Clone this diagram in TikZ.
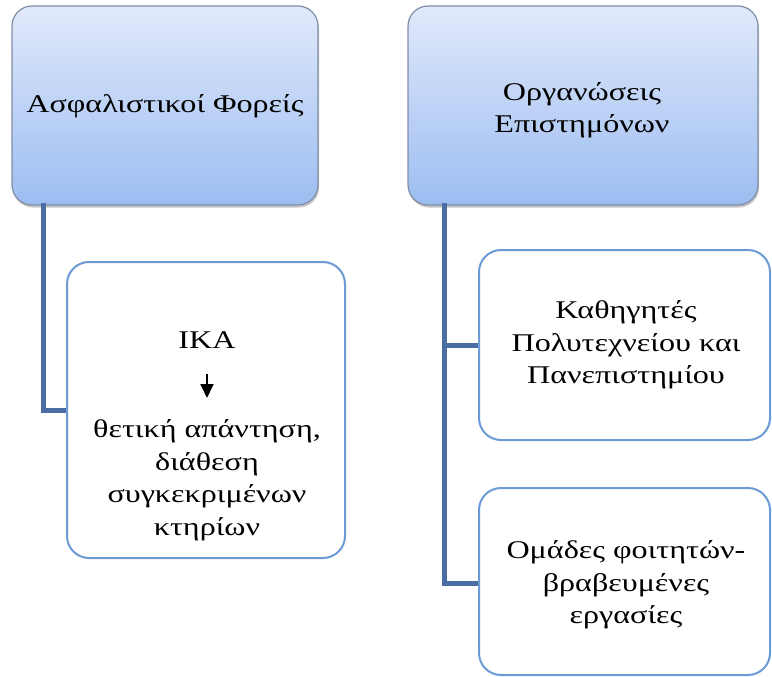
\documentclass[tikz,border=0pt]{standalone}
\usepackage{fontspec}
\setmainfont[FakeStretch=1.26]{Liberation Serif}
\usetikzlibrary{shadows,arrows.meta}
\definecolor{topc}{HTML}{E1E9FB}
\definecolor{botc}{HTML}{9CBDF1}
\definecolor{headline}{HTML}{7F8EA6}
\definecolor{subline}{HTML}{6C9BD5}
\definecolor{conn}{HTML}{4A6EA4}
\tikzset{
  headbox/.style={draw=headline, line width=1.2pt, rounded corners=20pt, top color=topc, bottom color=botc,
    drop shadow={shadow xshift=1pt, shadow yshift=-2.5pt, opacity=0.45}},
  subbox/.style={draw=subline, line width=2pt, rounded corners=22pt, fill=white},
  txt/.style={font=\fontsize{25.5}{32.5}\selectfont, align=center, text=black, inner sep=0pt},
  connector/.style={draw=conn, line width=5pt, line cap=rect}
}
\begin{document}
\begin{tikzpicture}[x=1pt,y=-1pt]
\useasboundingbox (0,0) rectangle (772,677);
% connectors
\coordinate (lt) at (43,205);
\coordinate (lb) at (43,410);
\coordinate (rt) at (444,205);
\coordinate (r1) at (444,345);
\coordinate (r2) at (444,583);
% boxes
\path[headbox] (12,6) rectangle (318,205);
\path[headbox] (408,6) rectangle (758,205);
\node[txt] (a) at (165,106) {Ασφαλιστικοί Φορείς};
\node[txt] (b) at (582,110) {Οργανώσεις\\Επιστημόνων};
\draw[connector] (lt) -- (lb) -- (68,410);
\draw[connector] (rt) -- (r2) -- (479,583);
\draw[connector] (r1) -- (479,345);
\path[subbox] (67,262) rectangle (345,558);
\path[subbox] (479,250) rectangle (770,440);
\path[subbox] (479,488) rectangle (770,675);
\node[txt] (ika) at (207,340) {ΙΚΑ};
\node[txt] (c) at (207,480) {θετική απάντηση,\\διάθεση\\συγκεκριμένων\\κτηρίων};
\draw[-{Triangle[length=14pt,width=13pt]}, line width=1.8pt] (207,374) -- (207,398);
\node[txt] (d) at (626,345) {Καθηγητές\\Πολυτεχνείου και\\Πανεπιστημίου};
\node[txt] (e) at (626,585) {Ομάδες φοιτητών-\\βραβευμένες\\εργασίες};
\end{tikzpicture}
\end{document}
